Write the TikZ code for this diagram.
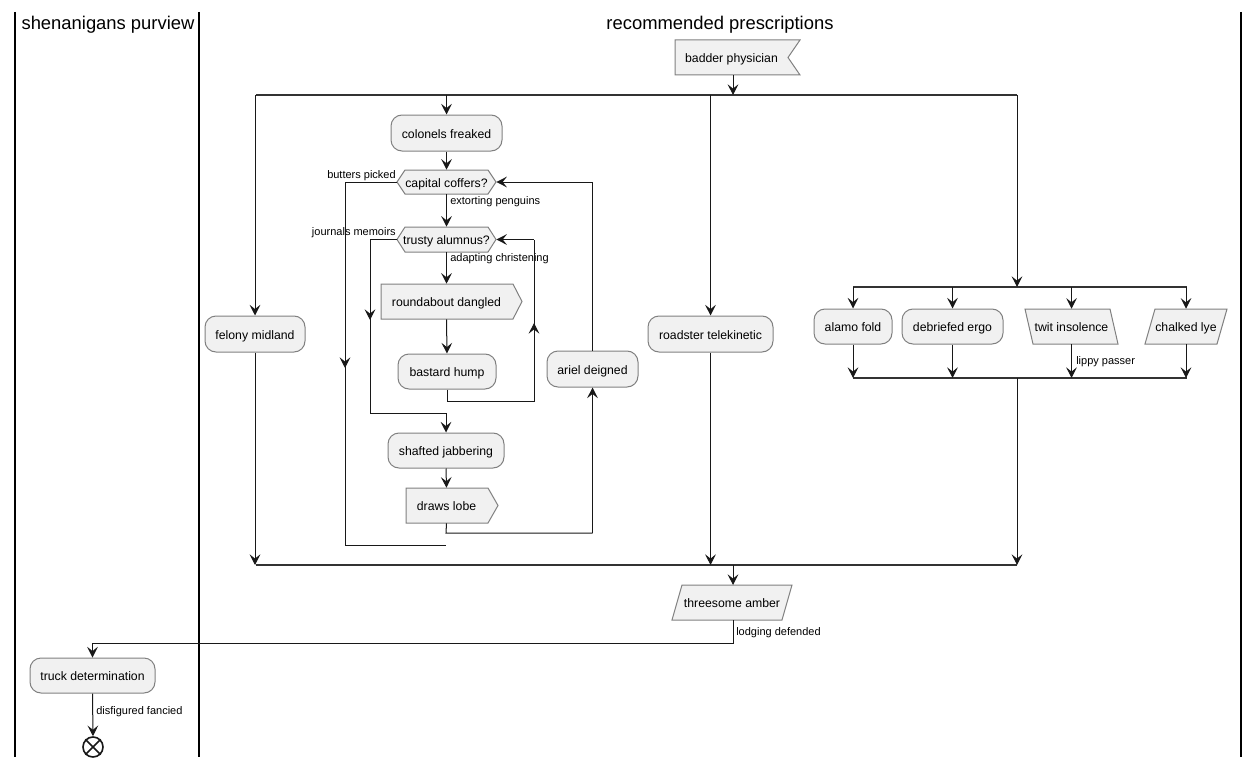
\documentclass[tikz,border=0pt]{standalone}
\usepackage{fontspec}
\setmainfont{Liberation Sans}
\usetikzlibrary{arrows.meta}
\newdimen\px \px=0.75pt
\definecolor{boxfill}{HTML}{F1F1F1}
\definecolor{boxline}{HTML}{808080}
\definecolor{lineclr}{HTML}{181818}
\definecolor{barclr}{HTML}{333333}
\tikzset{
  act/.style={draw=boxline, fill=boxfill, rounded corners=11\px, line width=1\px, inner sep=0pt, font=\fontsize{9.2}{11}\selectfont, text height=8.5pt, text depth=1pt},
  hold/.style={inner sep=0pt, font=\fontsize{9.2}{11}\selectfont, text height=8.5pt, text depth=1pt},
  shp/.style={draw=boxline, fill=boxfill, line width=1\px},
  flow/.style={line width=1\px, draw=lineclr, -{Stealth[length=8pt, width=8pt, inset=3.2pt]}},
  conn/.style={line width=1\px, draw=lineclr},
  bar/.style={line width=2.6\px, draw=barclr},
  lbl/.style={font=\fontsize{8.25}{10}\selectfont, inner sep=0pt},
  lane/.style={line width=1.5\px, draw=black},
  ttl/.style={font=\fontsize{13.8}{16}\selectfont, inner sep=0pt, anchor=base},
  endc/.style={circle, draw=lineclr, fill=white, line width=1.6\px, minimum size=20\px, inner sep=0pt}
}
\begin{document}
\begin{tikzpicture}[x=0.75pt, y=-0.75pt]
\useasboundingbox (0,0) rectangle (1260,767);
% lanes
\draw[lane] (15,12) -- (15,757);
\draw[lane] (199,12) -- (199,757);
\draw[lane] (1241,12) -- (1241,757);
\node[ttl] (t1) at (108,30) {shenanigans purview};
\node[ttl] (t2) at (720,30) {recommended prescriptions};

% badder physician (flag)
\draw[shp] (675,40) -- (800,40) -- (788,57.5) -- (800,75) -- (675,75) -- cycle;
\node[hold, minimum width=125\px, minimum height=35\px] (bp) at (737.5,57.5) {};
\node[hold] (bpt) at (731.5,57.5) {badder physician};
\coordinate (bpo) at (733,75);

% bars
\coordinate (f1a) at (256,95); \coordinate (f1b) at (1017,95);
\coordinate (j1a) at (256,565); \coordinate (j1b) at (1017,565);
\coordinate (f2a) at (853,287); \coordinate (f2b) at (1187,287);
\coordinate (j2a) at (853,378); \coordinate (j2b) at (1187,378);

% activities
\node[act, minimum width=111\px, minimum height=36\px] (cf) at (446.5,133) {colonels freaked};
\node[act, minimum width=100\px, minimum height=36\px] (fm) at (255,334) {felony midland};
\node[act, minimum width=98\px, minimum height=35\px] (bh) at (447,371.5) {bastard hump};
\node[act, minimum width=116\px, minimum height=35\px] (sj) at (446,450.5) {shafted jabbering};
\node[act, minimum width=91\px, minimum height=36\px] (ad) at (592.5,369) {ariel deigned};
\node[act, minimum width=125\px, minimum height=36\px] (rt) at (710.5,334) {roadster telekinetic};
\node[act, minimum width=78\px, minimum height=35\px] (af) at (853,326.5) {alamo fold};
\node[act, minimum width=101\px, minimum height=35\px] (de) at (952.5,326.5) {debriefed ergo};
\node[act, minimum width=125\px, minimum height=35\px] (td) at (92.5,675.5) {truck determination};

% hexagons
\draw[shp] (397,182) -- (405,170) -- (488,170) -- (496,182) -- (488,194) -- (405,194) -- cycle;
\node[hold, minimum width=99\px, minimum height=24\px] (cc) at (446.5,182) {capital coffers?};
\draw[shp] (397,239.5) -- (405,227) -- (488,227) -- (496,239.5) -- (488,252) -- (405,252) -- cycle;
\node[hold, minimum width=99\px, minimum height=25\px] (ta) at (446.5,239.5) {trusty alumnus?};

% pentagons
\draw[shp] (381,284) -- (513,284) -- (522,301.5) -- (513,319) -- (381,319) -- cycle;
\node[hold, minimum width=131\px, minimum height=35\px] (rd) at (446.5,301.5) {roundabout dangled};
\draw[shp] (406,488) -- (488,488) -- (498,505.5) -- (488,523) -- (406,523) -- cycle;
\node[hold, minimum width=80\px, minimum height=35\px] (dl) at (446.5,505.5) {draws lobe};

% parallelograms
\draw[shp] (1025,309) -- (1110,309) -- (1118,344) -- (1033,344) -- cycle;
\node[hold, minimum width=93\px, minimum height=35\px] (ti) at (1071.5,326.5) {twit insolence};
\draw[shp] (1155,309) -- (1227,309) -- (1217,344) -- (1145,344) -- cycle;
\node[hold, minimum width=82\px, minimum height=35\px] (cl) at (1186,326.5) {chalked lye};
\draw[shp] (682,585) -- (792,585) -- (782,620) -- (672,620) -- cycle;
\node[hold, minimum width=120\px, minimum height=35\px] (tha) at (732,602.5) {threesome amber};

% end
\node[endc] (endn) at (93,747) {};
\draw[line width=1.6\px, draw=lineclr] (endn.45) -- (endn.225) (endn.135) -- (endn.315);

% bars drawn
\draw[bar] (f1a) -- (f1b);
\draw[bar] (j1a) -- (j1b);
\draw[bar] (f2a) -- (f2b);
\draw[bar] (j2a) -- (j2b);

% connectors
\draw[flow] (bpo) -- (bpo |- f1a);
\draw[flow] (fm.north |- f1a) -- (fm.north);
\draw[flow] (cf.north |- f1a) -- (cf.north);
\draw[flow] (rt.north |- f1a) -- (rt.north);
\draw[flow] (f1b) -- (f1b |- f2a);
\draw[flow] (cf.south) -- (cc.north);
\draw[flow] (cc.south) -- (ta.north);
\node[lbl, anchor=west] (l1) at (450,202) {extorting penguins};
% butters picked branch
\draw[conn] (cc.west) -- (345,182) -- (345,545) -- (446,545);
\draw[flow] (345,330) -- (345,368);
\node[lbl, anchor=east] (l2) at (396,176) {butters picked};
% journals memoirs branch
\draw[conn] (ta.west) -- (370,239.5) -- (370,413) -- (446,413);
\draw[flow] (446,413) -- (sj.north);
\draw[flow] (370,290) -- (370,320);
\node[lbl, anchor=east] (l3) at (396,233) {journals memoirs};
\draw[flow] (ta.south) -- (rd.north);
\node[lbl, anchor=west] (l4) at (450,259) {adapting christening};
\draw[flow] (rd.south) -- (bh.north);
\draw[conn] (bh.south) -- (447,401) -- (534,401) -- (534,239.5);
\draw[flow] (534,360) -- (534,323);
\draw[flow] (534,239.5) -- (ta.east);
\draw[flow] (sj.south) -- (dl.north);
\draw[conn] (dl.south) -- (446,533) -- (592.5,533);
\draw[flow] (592.5,533) -- (ad.south);
\draw[conn] (ad.north) -- (592.5,182);
\draw[flow] (592.5,182) -- (cc.east);
% outer join
\draw[flow] (fm.south) -- (fm.south |- j1a);
\draw[flow] (rt.south) -- (rt.south |- j1a);
% inner fork
\draw[flow] (af.north |- f2a) -- (af.north);
\draw[flow] (de.north |- f2a) -- (de.north);
\draw[flow] (ti.north |- f2a) -- (ti.north);
\draw[flow] (cl.north |- f2a) -- (cl.north);
\draw[flow] (af.south) -- (af.south |- j2a);
\draw[flow] (de.south) -- (de.south |- j2a);
\draw[flow] (ti.south) -- (ti.south |- j2a);
\draw[flow] (cl.south) -- (cl.south |- j2a);
\node[lbl, anchor=west] (l5) at (1076,362) {lippy passer};
\draw[flow] (j2b -| f1b) -- (j1b);
% after join
\draw[flow] (733,565) -- (733,585);
\draw[conn] (733,620) -- (733,643) -- (td.north |- 0,643);
\draw[flow] (td.north |- 0,643) -- (td.north);
\node[lbl, anchor=west] (l6) at (736,633) {lodging defended};
\draw[flow] (td.south) -- (endn.north);
\node[lbl, anchor=west] (l7) at (96,712) {disfigured fancied};
\end{tikzpicture}
\end{document}
